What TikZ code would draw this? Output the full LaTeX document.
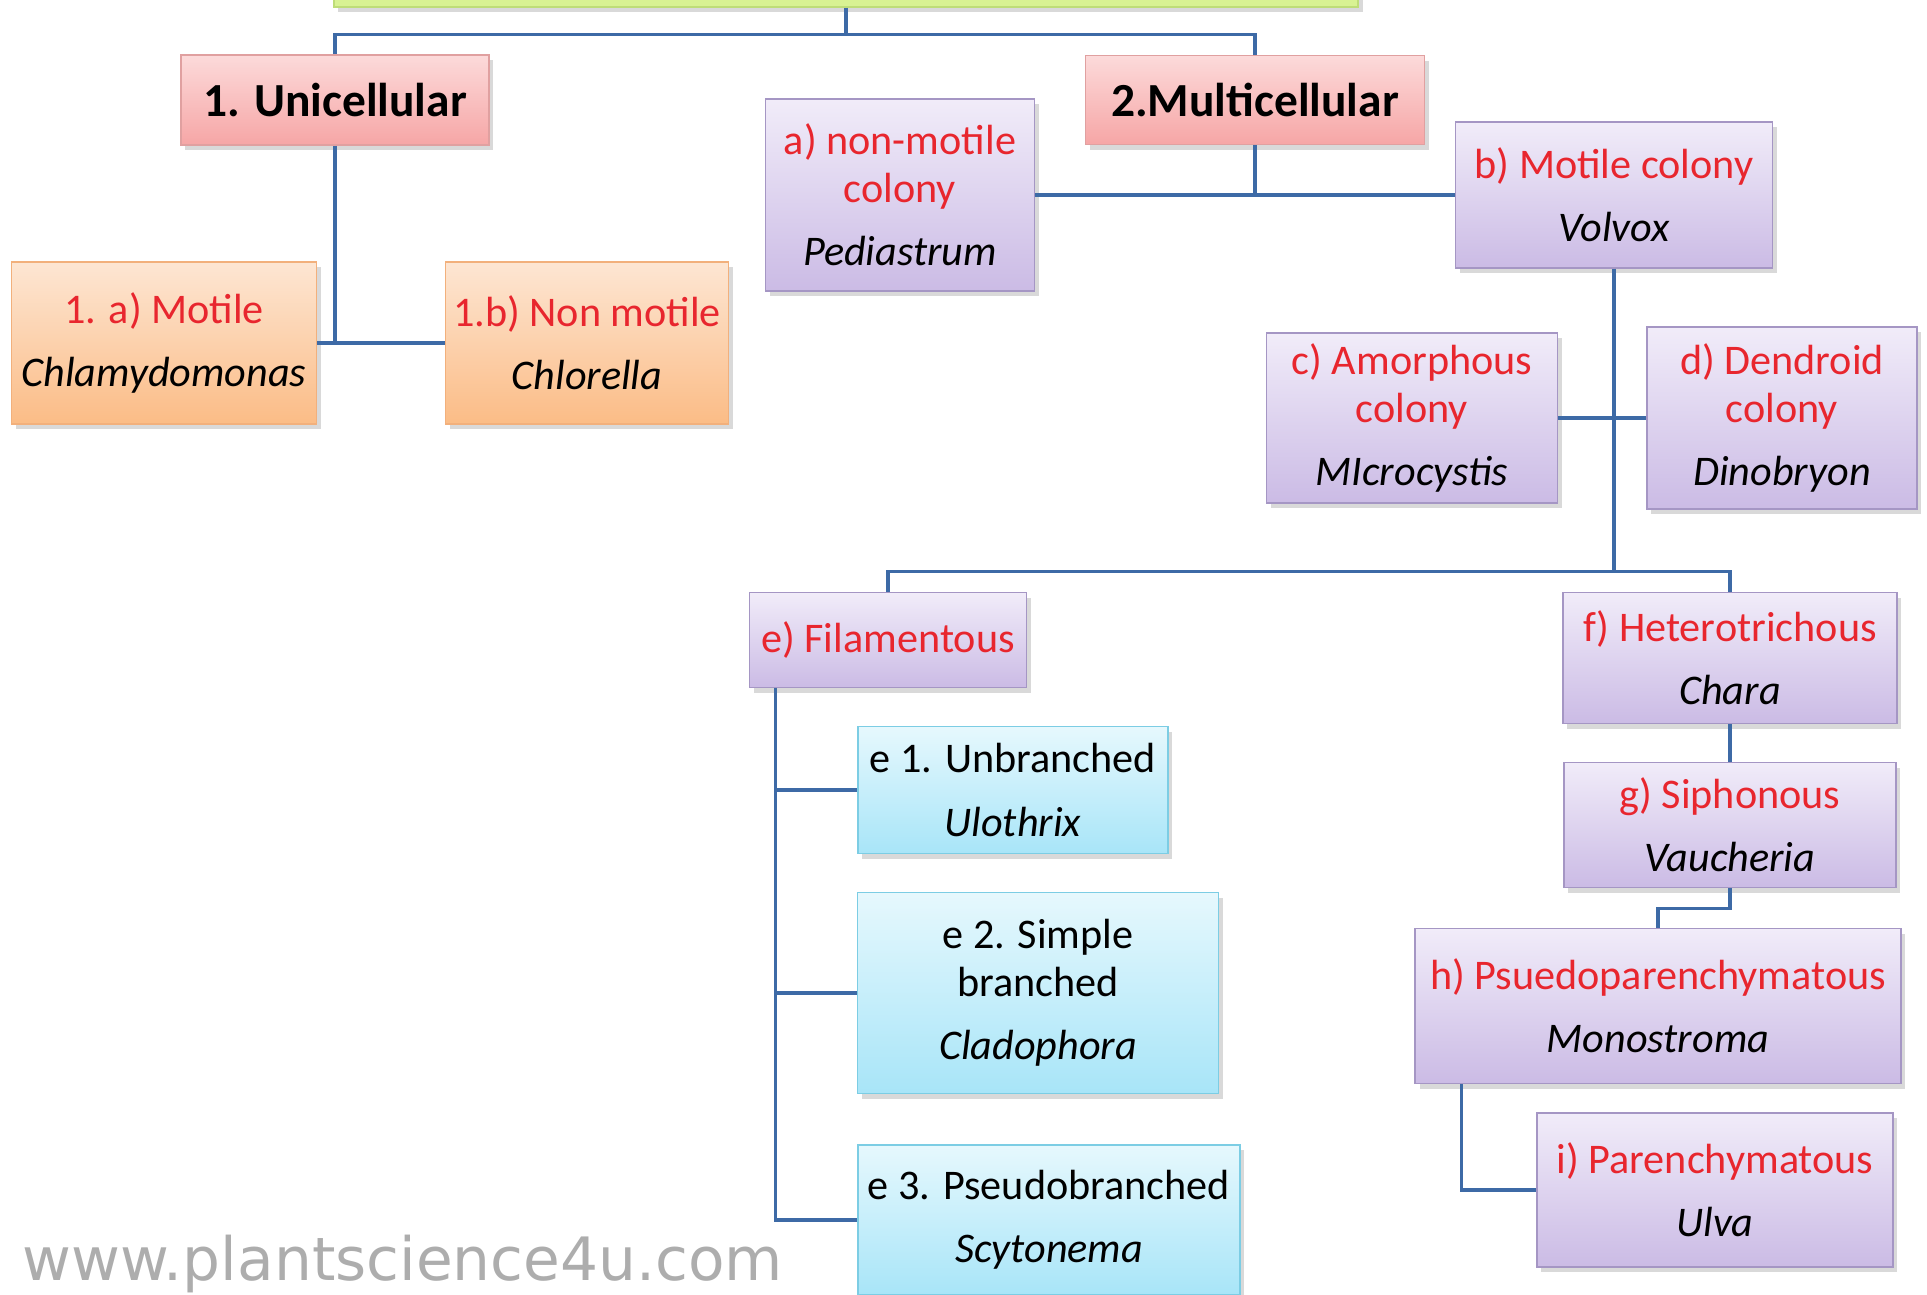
\documentclass[tikz,border=0pt]{standalone}
\usepackage{fontspec}
\setmainfont{Carlito}
\newfontfamily\sitefont{DejaVu Sans}
\usetikzlibrary{shadows}

\definecolor{linkblue}{HTML}{3D6AA6}
\definecolor{kindred}{HTML}{E8262E}
\definecolor{pinktop}{HTML}{FCDADA}
\definecolor{pinkbot}{HTML}{F6A6A6}
\definecolor{pinkline}{HTML}{E0A0A0}
\definecolor{orantop}{HTML}{FDE6D3}
\definecolor{oranbot}{HTML}{FBBC86}
\definecolor{oranline}{HTML}{F2B07C}
\definecolor{purptop}{HTML}{F1ECF9}
\definecolor{purpbot}{HTML}{CBBBE5}
\definecolor{purpline}{HTML}{A596C4}
\definecolor{bluetop}{HTML}{E6F8FD}
\definecolor{bluebot}{HTML}{A8E5F8}
\definecolor{blueline}{HTML}{7CCDE4}
\definecolor{greenfill}{HTML}{D8F293}
\definecolor{greenline}{HTML}{BEDD78}

\newcommand{\kind}[1]{\textcolor{kindred}{#1}}
\newcommand{\genus}[1]{\textit{#1}}

\begin{document}
\begin{tikzpicture}[x=0.01cm,y=-0.01cm]
\tikzstyle{every node}+=[inner sep=0pt, align=center, font=\fontsize{12}{13.5}\selectfont]
\tikzstyle{box}=[draw, rectangle, line width=0.5pt, drop shadow={shadow xshift=1.2pt, shadow yshift=-1.5pt, opacity=0.3}]
\tikzstyle{pinkbox}=[box, draw=pinkline, top color=pinktop, bottom color=pinkbot, font=\bfseries\fontsize{13.5}{16}\selectfont]
\tikzstyle{oranbox}=[box, draw=oranline, top color=orantop, bottom color=oranbot]
\tikzstyle{purpbox}=[box, draw=purpline, top color=purptop, bottom color=purpbot]
\tikzstyle{bluebox}=[box, draw=blueline, top color=bluetop, bottom color=bluebot]
\tikzstyle{link}=[draw=linkblue, line width=0.9pt]
\useasboundingbox (0,0) rectangle (1927,1295);
\clip (0,0) rectangle (1927,1295);

\node [box, draw=greenline, fill=greenfill, minimum width=10.24cm, minimum height=0.68cm] (top) at (846,-27) {};
\node [pinkbox, minimum width=3.08cm, minimum height=0.90cm] (uni) at (335,100) {1. Unicellular};
\node [pinkbox, minimum width=3.39cm, minimum height=0.89cm] (multi) at (1255,100) {2.Multicellular};
\node [oranbox, minimum width=3.05cm, minimum height=1.62cm] (motile) at (164,343) {\kind{1. a) Motile}\\[4.5pt]\genus{Chlamydomonas}};
\node [oranbox, minimum width=2.83cm, minimum height=1.62cm] (nonmotile) at (587,343) {\kind{1.b) Non motile}\\[4.5pt]\genus{Chlorella}};
\node [purpbox, minimum width=2.69cm, minimum height=1.92cm] (pedia) at (900,195) {\kind{a) non-motile}\\\kind{colony}\\[4.5pt]\genus{Pediastrum}};
\node [purpbox, minimum width=3.17cm, minimum height=1.46cm] (volvox) at (1614,195) {\kind{b) Motile colony}\\[4.5pt]\genus{Volvox}};
\node [purpbox, minimum width=2.91cm, minimum height=1.70cm] (micro) at (1412,418) {\kind{c) Amorphous}\\\kind{colony}\\[4.5pt]\genus{MIcrocystis}};
\node [purpbox, minimum width=2.70cm, minimum height=1.82cm] (dino) at (1782,418) {\kind{d) Dendroid}\\\kind{colony}\\[4.5pt]\genus{Dinobryon}};
\node [purpbox, minimum width=2.77cm, minimum height=0.95cm] (fila) at (888,640) {\kind{e) Filamentous}};
\node [purpbox, minimum width=3.34cm, minimum height=1.31cm] (chara) at (1730,658) {\kind{f) Heterotrichous}\\[4.5pt]\genus{Chara}};
\node [bluebox, minimum width=3.10cm, minimum height=1.27cm] (ulo) at (1013,790) {e 1. Unbranched\\[4.5pt]\genus{Ulothrix}};
\node [bluebox, minimum width=3.61cm, minimum height=2.01cm] (clado) at (1038,993) {e 2. Simple\\branched\\[4.5pt]\genus{Cladophora}};
\node [bluebox, minimum width=3.82cm, minimum height=1.50cm] (scyto) at (1049,1220) {e 3. Pseudobranched\\[4.5pt]\genus{Scytonema}};
\node [purpbox, minimum width=3.32cm, minimum height=1.25cm] (vauch) at (1730,825) {\kind{g) Siphonous}\\[4.5pt]\genus{Vaucheria}};
\node [purpbox, minimum width=4.85cm, minimum height=1.55cm] (mono) at (1658,1006) {\kind{h) Psuedoparenchymatous}\\[4.5pt]\genus{Monostroma}};
\node [purpbox, minimum width=3.56cm, minimum height=1.54cm] (ulva) at (1715,1190) {\kind{i) Parenchymatous}\\[4.5pt]\genus{Ulva}};
\node [anchor=base west, font=\sitefont\fontsize{17}{17}\selectfont, text=black!32] (site) at (22,1280) {www.plantscience4u.com};

\draw [link] (top.south) -- ++(0,27) -| (uni.north);
\draw [link] (top.south) -- ++(0,27) -| (multi.north);
\draw [link] (uni.south) -- (uni.south |- motile.east);
\draw [link] (motile.east) -- (nonmotile.west);
\draw [link] (multi.south) -- (multi.south |- pedia.east);
\draw [link] (pedia.east) -- (volvox.west);
\draw [link] (volvox.south) -- ++(0,303) -| (fila.north);
\draw [link] (volvox.south) -- ++(0,303) -| (chara.north);
\draw [link] (micro.east) -- (dino.west);
\draw [link] ([xshift=0.27cm]fila.south west) |- (ulo.west);
\draw [link] ([xshift=0.27cm]fila.south west) |- (clado.west);
\draw [link] ([xshift=0.27cm]fila.south west) |- (scyto.west);
\draw [link] (chara.south) -- (vauch.north);
\draw [link] (vauch.south) -- ++(0,20) -| (mono.north);
\draw [link] ([xshift=0.47cm]mono.south west) |- (ulva.west);
\end{tikzpicture}
\end{document}
